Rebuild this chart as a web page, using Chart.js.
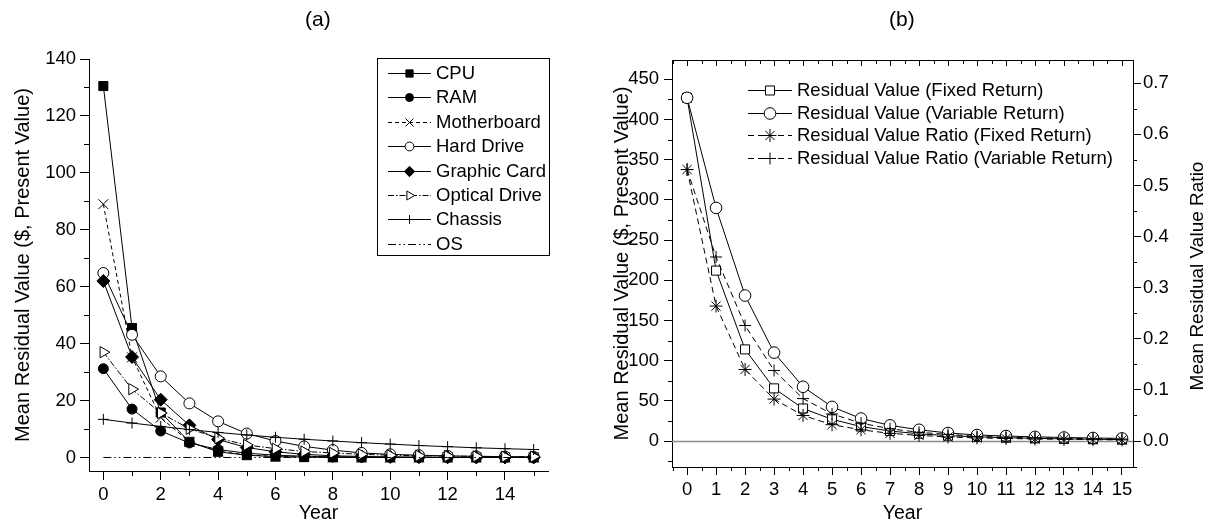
<!DOCTYPE html>
<html>
<head>
<meta charset="utf-8">
<script src="https://cdn.jsdelivr.net/npm/chart.js@4.4.1/dist/chart.umd.min.js"></script>
<style>
  body { margin: 0; background: #fff; }
  #wrap { position: relative; width: 1211px; height: 525px; font-family: "Liberation Sans", Arial, sans-serif; }
  canvas { position: absolute; top: 0; }
  .tag { position: absolute; top: 8px; font-size: 21px; line-height: 1; color: #000; }
</style>
</head>
<body>
<div id="wrap">
  <canvas id="chartA" width="600" height="525" style="left:0"></canvas>
  <canvas id="chartB" width="611" height="525" style="left:600px"></canvas>
  <div class="tag" style="left:305px">(a)</div>
  <div class="tag" style="left:889px">(b)</div>
</div>
<script>
const FONT = '"Liberation Sans", Arial, sans-serif';
Chart.defaults.font.family = FONT;
Chart.defaults.color = '#000';

// ---- data, panel (a)
const years = [0, 1, 2, 3, 4, 5, 6, 7, 8, 9, 10, 11, 12, 13, 14, 15];
const cpu = [130.5, 45.5, 15.8, 5.5, 2.0, 0.8, 0.3, 0.12, 0.05, 0.02, 0.01, 0, 0, 0, 0, 0];
const ram = [31.2, 17.0, 9.3, 5.1, 2.8, 1.5, 0.8, 0.45, 0.25, 0.14, 0.08, 0.04, 0.02, 0.01, 0.01, 0];
const motherboard = [89, 35.2, 14, 5.5, 2.2, 0.9, 0.35, 0.14, 0.06, 0.02, 0.01, 0, 0, 0, 0, 0];
const hardDrive = [64.8, 43.1, 28.5, 19.0, 12.7, 8.4, 5.8, 3.9, 2.6, 1.6, 1.1, 0.8, 0.55, 0.4, 0.3, 0.2];
const graphicCard = [62, 35.3, 20.3, 11.3, 6.3, 3.5, 2.0, 1.1, 0.6, 0.35, 0.2, 0.1, 0.05, 0.03, 0.02, 0.01];
const opticalDrive = [37, 24, 15.6, 10.1, 6.8, 4.4, 3.1, 2.1, 1.6, 1.1, 0.8, 0.6, 0.5, 0.4, 0.3, 0.3];
const chassis = [13.4, 12.1, 10.9, 9.8, 8.8, 7.9, 7.1, 6.4, 5.8, 5.2, 4.7, 4.2, 3.8, 3.4, 3.1, 2.8];
const os = [0, 0, 0, 0, 0, 0, 0, 0, 0, 0, 0, 0, 0, 0, 0, 0];

const aYMajor = [0, 20, 40, 60, 80, 100, 120, 140];
const aYMinor = [10, 30, 50, 70, 90, 110, 130];
const aXMajor = [0, 2, 4, 6, 8, 10, 12, 14];
const aXMinor = [1, 3, 5, 7, 9, 11, 13, 15];

// ---- data, panel (b)
const fixedReturn = [427, 212, 114, 65.5, 40.5, 27, 18, 12.5, 9, 6.7, 5.2, 4.1, 3.3, 2.7, 2.2, 1.8];
const variableReturn = [427, 290, 181, 110, 67.5, 42.5, 28, 19.5, 14, 10, 7.5, 6.2, 5.2, 4.4, 3.8, 3.3];
const ratioFixed = [0.531, 0.264, 0.140, 0.082, 0.050, 0.032, 0.022, 0.015, 0.011, 0.008, 0.006, 0.005, 0.004, 0.0033, 0.0027, 0.0022];
const ratioVariable = [0.531, 0.360, 0.226, 0.138, 0.083, 0.053, 0.035, 0.024, 0.017, 0.013, 0.009, 0.0075, 0.0063, 0.0053, 0.0046, 0.0039];

const bYMajor = [0, 50, 100, 150, 200, 250, 300, 350, 400, 450];
const bYMinor = [-25, 25, 75, 125, 175, 225, 275, 325, 375, 425];
const bRMajor = [0, 0.1, 0.2, 0.3, 0.4, 0.5, 0.6, 0.7];
const bRMinor = [-0.05, 0.05, 0.15, 0.25, 0.35, 0.45, 0.55, 0.65];
const bXMajor = [0, 1, 2, 3, 4, 5, 6, 7, 8, 9, 10, 11, 12, 13, 14, 15];
const bXMinor = [-0.5, 0.5, 1.5, 2.5, 3.5, 4.5, 5.5, 6.5, 7.5, 8.5, 9.5, 10.5, 11.5, 12.5, 13.5, 14.5];

function pts(arr) {
  return years.map((x, i) => ({ x: x, y: arr[i] }));
}

function series(label, arr, style, opts) {
  return Object.assign({
    label: label,
    data: pts(arr),
    borderColor: '#000',
    borderWidth: 1,
    pointStyle: style,
    pointRadius: 5,
    pointBorderColor: '#000',
    pointBorderWidth: 1,
    pointBackgroundColor: '#000',
    tension: 0,
    fill: false
  }, opts || {});
}

// tick marks that Chart.js does not draw (minor ones, mirrored top axis)
function marks(ctx, scale, values, edge, len) {
  const area = scale.chart.chartArea;
  ctx.save();
  ctx.strokeStyle = '#000';
  ctx.lineWidth = 1;
  ctx.beginPath();
  values.forEach(v => {
    const p = Math.round(scale.getPixelForValue(v)) + 0.5;
    if (edge === 'bottom') { ctx.moveTo(p, area.bottom); ctx.lineTo(p, area.bottom + len); }
    if (edge === 'top') { ctx.moveTo(p, area.top); ctx.lineTo(p, area.top + len); }
    if (edge === 'left') { ctx.moveTo(area.left, p); ctx.lineTo(area.left - len, p); }
    if (edge === 'right') { ctx.moveTo(area.right, p); ctx.lineTo(area.right + len, p); }
  });
  ctx.stroke();
  ctx.restore();
}

function legendPlugin(cfg) {
  return {
    id: 'sampleLegend',
    afterDraw(chart) {
      const ctx = chart.ctx;
      ctx.save();
      if (cfg.box) {
        ctx.strokeStyle = '#000';
        ctx.lineWidth = 1;
        ctx.strokeRect(cfg.box[0] + 0.5, cfg.box[1] + 0.5, cfg.box[2], cfg.box[3]);
      }
      chart.data.datasets.forEach((ds, i) => {
        const y = Math.round(cfg.top + i * cfg.step) + 0.5;
        ctx.strokeStyle = '#000';
        ctx.lineWidth = 1;
        ctx.setLineDash(ds.borderDash || []);
        ctx.beginPath();
        ctx.moveTo(cfg.x1, y);
        ctx.lineTo(cfg.x2, y);
        ctx.stroke();
        ctx.setLineDash([]);
        if (ds.pointRadius > 0) {
          ctx.fillStyle = ds.pointBackgroundColor;
          Chart.helpers.drawPoint(ctx, {
            pointStyle: ds.pointStyle,
            rotation: ds.pointRotation || 0,
            radius: ds.pointRadius * cfg.scale,
            borderWidth: 1
          }, (cfg.x1 + cfg.x2) / 2, y);
        }
        ctx.fillStyle = '#000';
        ctx.font = cfg.font;
        ctx.textAlign = 'left';
        ctx.textBaseline = 'middle';
        ctx.fillText(ds.label, cfg.tx, y);
      });
      ctx.restore();
    }
  };
}

function axisX(min, max, major, height, tickLen) {
  return {
    type: 'linear', position: 'bottom', min: min, max: max,
    afterBuildTicks: s => { s.ticks = major.map(v => ({ value: v })); },
    afterFit: s => { s.height = height; },
    grid: { drawOnChartArea: false, color: '#000', tickLength: tickLen },
    border: { color: '#000', width: 1 },
    ticks: { color: '#000', font: { size: 18.5 }, padding: 4, maxRotation: 0, autoSkip: false },
    title: { display: true, text: 'Year', color: '#000', font: { size: 19.5 }, padding: 0 }
  };
}

// ---- panel (a)
new Chart(document.getElementById('chartA'), {
  type: 'line',
  data: {
    datasets: [
      series('CPU', cpu, 'rect', { pointRadius: 6.4, order: 7 }),
      series('RAM', ram, 'circle', { pointRadius: 5, order: 6 }),
      series('Motherboard', motherboard, 'crossRot', { pointRadius: 7, borderDash: [4, 3], order: 5 }),
      series('Hard Drive', hardDrive, 'circle', { pointRadius: 5.5, pointBackgroundColor: '#fff', order: 4 }),
      series('Graphic Card', graphicCard, 'rectRot', { pointRadius: 6.5, order: 3 }),
      series('Optical Drive', opticalDrive, 'triangle', { pointRadius: 6.5, pointRotation: 90, pointBackgroundColor: '#fff', borderDash: [6, 2, 1.5, 2], order: 2 }),
      series('Chassis', chassis, 'cross', { pointRadius: 5.5, order: 1 }),
      series('OS', os, 'circle', { pointRadius: 0, borderDash: [8, 3, 1.5, 3, 1.5, 3], order: 0 })
    ]
  },
  options: {
    responsive: false,
    animation: false,
    events: [],
    layout: { padding: { left: 0, top: 59, right: 52, bottom: 0 } },
    plugins: { legend: { display: false }, tooltip: { enabled: false } },
    scales: {
      x: axisX(-0.5, 15.5, aXMajor, 54, 9),
      y: {
        type: 'linear', min: -4.75, max: 140,
        afterBuildTicks: s => { s.ticks = aYMajor.map(v => ({ value: v })); },
        afterFit: s => { s.width = 89; },
        grid: { drawOnChartArea: false, color: '#000', tickLength: 9 },
        border: { color: '#000', width: 1 },
        ticks: { color: '#000', font: { size: 18.5 }, padding: 4 },
        title: { display: true, text: 'Mean Residual Value ($, Present Value)', color: '#000', font: { size: 20 }, padding: { top: 11, bottom: 0 } }
      }
    }
  },
  plugins: [
    {
      id: 'minorA',
      afterDraw(chart) {
        marks(chart.ctx, chart.scales.x, aXMinor, 'bottom', 5);
        marks(chart.ctx, chart.scales.y, aYMinor, 'left', 5);
      }
    },
    legendPlugin({ box: [377, 58, 172, 197], top: 73, step: 24.4, x1: 388, x2: 431, tx: 436, scale: 0.8, font: '18.5px ' + FONT })
  ]
});

// ---- panel (b)
new Chart(document.getElementById('chartB'), {
  type: 'line',
  data: {
    datasets: [
      series('Residual Value (Fixed Return)', fixedReturn, 'rect', { pointRadius: 6.4, pointBackgroundColor: '#fff', yAxisID: 'y', order: 3 }),
      series('Residual Value (Variable Return)', variableReturn, 'circle', { pointRadius: 5.8, pointBackgroundColor: '#fff', yAxisID: 'y', order: 2 }),
      series('Residual Value Ratio (Fixed Return)', ratioFixed, 'star', { pointRadius: 6.5, borderDash: [6, 4], yAxisID: 'y2', order: 1 }),
      series('Residual Value Ratio (Variable Return)', ratioVariable, 'cross', { pointRadius: 6, borderDash: [6, 4], yAxisID: 'y2', order: 0 })
    ]
  },
  options: {
    responsive: false,
    animation: false,
    events: [],
    layout: { padding: { left: 0, top: 60, right: 0, bottom: 0 } },
    plugins: { legend: { display: false }, tooltip: { enabled: false } },
    scales: {
      x: axisX(-0.52, 15.38, bXMajor, 58, 8),
      y: {
        type: 'linear', position: 'left', min: -32.3, max: 474,
        afterBuildTicks: s => { s.ticks = bYMajor.map(v => ({ value: v })); },
        afterFit: s => { s.width = 72; },
        grid: { drawOnChartArea: false, color: '#000', tickLength: 8 },
        border: { color: '#000', width: 1 },
        ticks: { color: '#000', font: { size: 18.5 }, padding: 5 },
        title: { display: true, text: 'Mean Residual Value ($, Present Value)', color: '#000', font: { size: 20 }, padding: { top: 10, bottom: 0 } }
      },
      y2: {
        type: 'linear', position: 'right', min: -0.0508, max: 0.7453,
        afterBuildTicks: s => { s.ticks = bRMajor.map(v => ({ value: v })); },
        afterFit: s => { s.width = 78; },
        grid: { drawOnChartArea: false, color: '#000', tickLength: 8 },
        border: { color: '#000', width: 1 },
        ticks: { color: '#000', font: { size: 18.5 }, padding: 2, callback: v => v.toFixed(1) }
      }
    }
  },
  plugins: [
    {
      id: 'frameB',
      beforeDatasetsDraw(chart) {
        const ctx = chart.ctx, area = chart.chartArea;
        const y0 = Math.round(chart.scales.y.getPixelForValue(0)) + 0.5;
        ctx.save();
        ctx.strokeStyle = '#8c8c8c';
        ctx.lineWidth = 1.5;
        ctx.beginPath();
        ctx.moveTo(area.left, y0);
        ctx.lineTo(area.right, y0);
        ctx.stroke();
        ctx.restore();
      },
      afterDraw(chart) {
        const ctx = chart.ctx, area = chart.chartArea;
        ctx.save();
        ctx.strokeStyle = '#000';
        ctx.lineWidth = 1;
        ctx.beginPath();
        ctx.moveTo(area.left, Math.round(area.top) + 0.5);
        ctx.lineTo(area.right, Math.round(area.top) + 0.5);
        ctx.stroke();
        ctx.restore();
        marks(ctx, chart.scales.x, bXMinor, 'bottom', 4);
        marks(ctx, chart.scales.x, bXMajor, 'top', 6);
        marks(ctx, chart.scales.x, bXMinor, 'top', 4);
        marks(ctx, chart.scales.y, bYMinor, 'left', 4);
        marks(ctx, chart.scales.y2, bRMinor, 'right', 4);
        // right axis title reads bottom-to-top like the left one
        ctx.save();
        ctx.translate(598, 276);
        ctx.rotate(-Math.PI / 2);
        ctx.fillStyle = '#000';
        ctx.font = '19px ' + FONT;
        ctx.textAlign = 'center';
        ctx.textBaseline = 'middle';
        ctx.fillText('Mean Residual Value Ratio', 0, 0);
        ctx.restore();
      }
    },
    legendPlugin({ top: 90, step: 22.7, x1: 148, x2: 192, tx: 197, scale: 1, font: '18.5px ' + FONT })
  ]
});
</script>
</body>
</html>
